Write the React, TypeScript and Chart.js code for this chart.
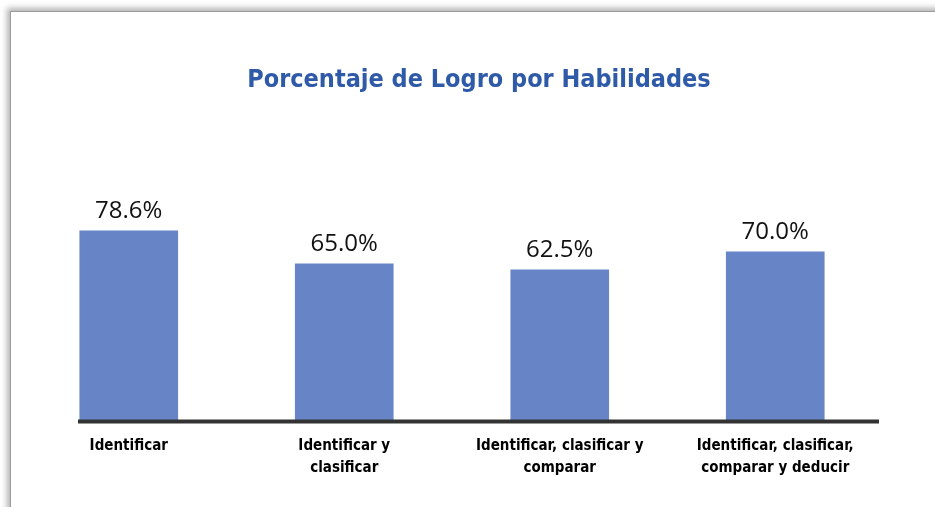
import React, { useEffect, useRef } from "react";
import { Chart, registerables } from "chart.js";

Chart.register(...registerables);

const TITLE = "Porcentaje de Logro por Habilidades";
const categories: string[][] = [
  ["Identificar"],
  ["Identificar y", "clasificar"],
  ["Identificar, clasificar y", "comparar"],
  ["Identificar, clasificar,", "comparar y deducir"],
];
const values: number[] = [78.6, 65.0, 62.5, 70.0];
const Y_MIN = 0;
const Y_MAX = 100;

const CONDENSED = '"Liberation Sans Narrow", "DejaVu Sans Condensed", "Roboto Condensed", "Liberation Sans", sans-serif';

const decorations = {
  id: "decorations",
  afterDatasetsDraw(chart: any) {
    const ctx = chart.ctx;
    const meta = chart.getDatasetMeta(0);
    ctx.save();
    // title
    ctx.font = "bold 25px " + CONDENSED;
    ctx.fillStyle = "#2E5AA8";
    ctx.textAlign = "center";
    ctx.textBaseline = "alphabetic";
    ctx.fillText(TITLE, 479, 87);
    // value labels
    ctx.font = '24px "Open Sans", "Noto Sans", sans-serif';
    ctx.fillStyle = "#111111";
    meta.data.forEach((bar: any, i: number) => {
      const v = chart.data.datasets[0].data[i] as number;
      ctx.fillText(v.toFixed(1) + "%", bar.x, bar.y - 13);
    });
    // baseline rule
    const y0 = chart.scales.y.getPixelForValue(0);
    ctx.fillStyle = "#333333";
    ctx.fillRect(78, y0 - 2, 801, 4);
    ctx.restore();
  },
};

export default function App() {
  const ref = useRef<HTMLCanvasElement | null>(null);
  useEffect(() => {
    if (!ref.current) return;
    const chart = new Chart(ref.current, {
      type: "bar",
      data: {
        labels: categories,
        datasets: [
          {
            data: values,
            backgroundColor: "#6785C6",
            borderWidth: 0,
            barThickness: 98,
          },
        ],
      },
      options: {
        responsive: false,
        animation: false,
        devicePixelRatio: 1,
        layout: { padding: { left: 21, right: 52, top: 179, bottom: 22 } },
        plugins: {
          legend: { display: false },
          tooltip: { enabled: false },
          title: { display: false },
        },
        scales: {
          x: {
            grid: { display: false },
            border: { display: false },
            ticks: {
              color: "#000000",
              padding: 6,
              maxRotation: 0,
              autoSkip: false,
              font: { family: CONDENSED, size: 15, weight: "bold", lineHeight: 1.45 },
            },
          },
          y: {
            display: false,
            min: Y_MIN,
            max: Y_MAX,
          },
        },
      },
      plugins: [decorations],
    });
    return () => chart.destroy();
  }, []);

  return (
    <div
      style={{
        position: "fixed",
        left: 0,
        top: 0,
        width: 935,
        height: 507,
        overflow: "hidden",
        background: "#ffffff",
      }}
    >
      <div
        style={{
          position: "absolute",
          left: 10,
          top: 11,
          width: 1100,
          height: 700,
          borderLeft: "1px solid #9a9a9a",
          borderTop: "1px solid #9a9a9a",
          boxShadow: "-3px -3px 6px rgba(0,0,0,0.3)",
          background: "#ffffff",
        }}
      />
      <canvas
        ref={ref}
        width={935}
        height={507}
        style={{ position: "absolute", left: 0, top: 0, width: 935, height: 507 }}
      />
    </div>
  );
}
